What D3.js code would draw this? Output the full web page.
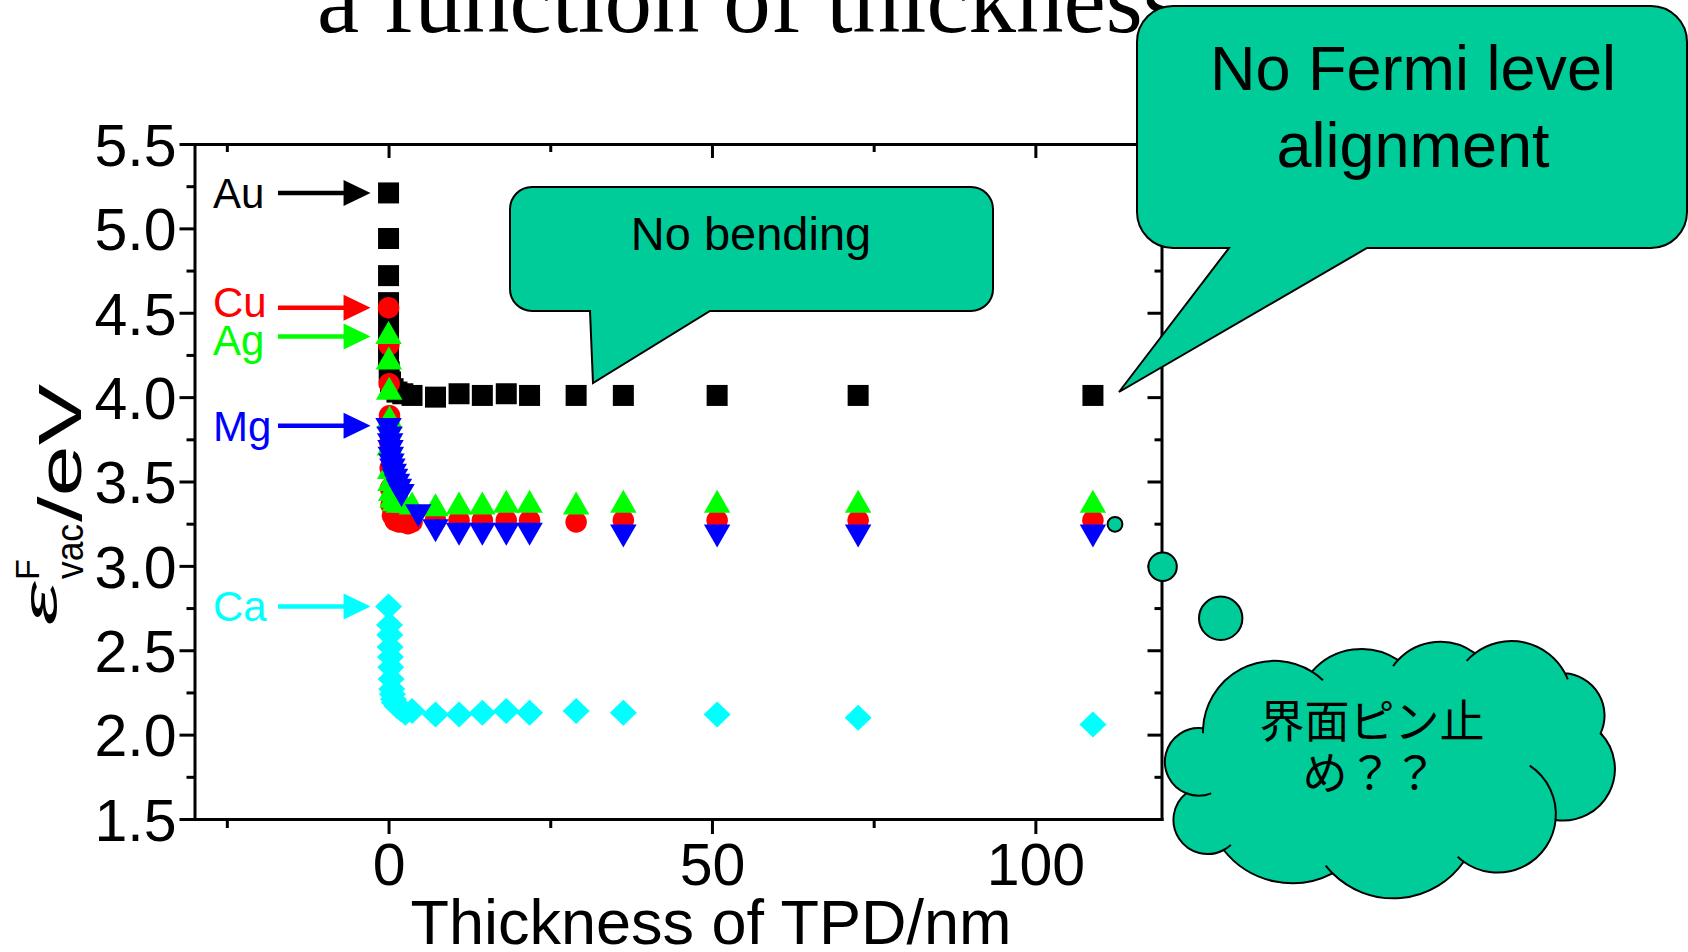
<!DOCTYPE html>
<html>
<head>
<meta charset="utf-8">
<script src="https://cdn.jsdelivr.net/npm/d3@7"></script>
<style>
  html, body { margin: 0; padding: 0; background: #fff; overflow: hidden; }
  svg { display: block; }
</style>
</head>
<body>
<svg id="chart" width="1688" height="952"></svg>
<script>
// ---- Data: vacuum-level offset vs. TPD thickness on each metal ----
const auThickness = [0, 0, 0, 0, 0, 0, 0, 0.1, 0.3, 0.7, 1.3, 2.2, 3.63, 7.26, 10.9, 14.5, 18.2, 21.8, 29.0, 36.3, 50.8, 72.6, 108.9];
const auEnergy    = [5.21, 4.94, 4.72, 4.56, 4.45, 4.34, 4.24, 4.15, 4.09, 4.05, 4.03, 4.02, 4.01, 4.00, 4.02, 4.01, 4.02, 4.01, 4.01, 4.01, 4.01, 4.01, 4.01];

const cuThickness = [0, 0.05, 0.1, 0.15, 0.2, 0.25, 0.3, 0.4, 0.6, 1.0, 1.6, 2.3, 3.0, 3.63, 7.26, 10.9, 14.5, 18.2, 21.8, 29.0, 36.3, 50.8, 72.6, 108.9];
const cuEnergy    = [4.53, 4.31, 4.08, 3.89, 3.73, 3.58, 3.46, 3.36, 3.30, 3.27, 3.26, 3.26, 3.25, 3.26, 3.27, 3.27, 3.27, 3.27, 3.27, 3.26, 3.27, 3.27, 3.27, 3.27];

const agThickness = [0, 0.05, 0.1, 0.15, 0.2, 0.25, 0.3, 0.4, 0.6, 1.0, 1.6, 2.4, 3.63, 7.26, 10.9, 14.5, 18.2, 21.8, 29.0, 36.3, 50.8, 72.6, 108.9];
const agEnergy    = [4.36, 4.21, 4.03, 3.86, 3.70, 3.56, 3.49, 3.43, 3.39, 3.37, 3.36, 3.36, 3.35, 3.34, 3.35, 3.35, 3.36, 3.36, 3.35, 3.36, 3.36, 3.36, 3.36];

const mgThickness = [0, 0.15, 0.25, 0.3, 0.35, 0.45, 0.6, 0.8, 1.0, 1.3, 1.6, 2.0, 4.6, 7.26, 10.9, 14.5, 18.2, 21.8, 36.3, 50.8, 72.6, 108.9];
const mgEnergy    = [3.83, 3.78, 3.74, 3.70, 3.66, 3.62, 3.59, 3.56, 3.53, 3.50, 3.47, 3.44, 3.32, 3.23, 3.21, 3.21, 3.21, 3.21, 3.20, 3.20, 3.20, 3.20];

const caThickness = [0, 0.15, 0.2, 0.25, 0.3, 0.35, 0.4, 0.5, 0.6, 0.75, 0.9, 1.3, 1.9, 2.6, 3.63, 7.26, 10.9, 14.5, 18.2, 21.8, 29.0, 36.3, 50.8, 72.6, 108.9];
const caEnergy    = [2.76, 2.65, 2.59, 2.52, 2.46, 2.40, 2.33, 2.27, 2.24, 2.21, 2.19, 2.17, 2.15, 2.13, 2.14, 2.12, 2.12, 2.13, 2.14, 2.13, 2.14, 2.13, 2.12, 2.10, 2.06];

const metalNames = ["Au", "Cu", "Ag", "Mg", "Ca"];

// ---- Axis ticks ----
const xDomain = [-30, 119.5];
const yDomain = [1.5, 5.5];
const xMajorTicks = [0, 50, 100];
const xMinorTicks = [-25, 25, 75];
const yMajorTicks = [1.5, 2.0, 2.5, 3.0, 3.5, 4.0, 4.5, 5.0, 5.5];
const yMinorTicks = [1.75, 2.25, 2.75, 3.25, 3.75, 4.25, 4.75, 5.25];

// ---- Layout ----
const svg = d3.select("#chart");
const plot = { left: 194.5, right: 1161.5, top: 144, bottom: 819 };
const x = d3.scaleLinear().domain(xDomain).range([plot.left, plot.right]);
const y = d3.scaleLinear().domain(yDomain).range([plot.bottom, plot.top]);

const sans = "'Liberation Sans', Arial, Helvetica, sans-serif";
const serif = "'Liberation Serif', 'Times New Roman', serif";
const teal = "#00CC99";

// Partially visible slide heading
svg.append("text")
  .attr("x", 317).attr("y", 32)
  .attr("font-family", serif).attr("font-size", 95)
  .attr("fill", "#000")
  .text("a function of thickness");

// ---- Axes (full frame: labelled bottom/left, mirrored ticks on top/right) ----
function styleAxis(g, keepDomain) {
  if (keepDomain) {
    g.select(".domain").attr("stroke", "#000").attr("stroke-width", 3).attr("stroke-linecap", "square");
  } else {
    g.select(".domain").remove();
  }
  g.selectAll(".tick line").attr("stroke", "#000").attr("stroke-width", 3);
  g.selectAll(".tick text").attr("font-family", sans).attr("font-size", 59).attr("fill", "#000");
}

const axes = svg.append("g");
// bottom
axes.append("g").attr("transform", `translate(0,${plot.bottom})`)
  .call(d3.axisBottom(x).tickValues(xMajorTicks).tickSize(15).tickSizeOuter(0).tickPadding(9).tickFormat(d3.format("d")))
  .call(g => styleAxis(g, true));
axes.append("g").attr("transform", `translate(0,${plot.bottom})`)
  .call(d3.axisBottom(x).tickValues(xMinorTicks).tickSize(9).tickFormat(""))
  .call(g => styleAxis(g, false));
// top
axes.append("g").attr("transform", `translate(0,${plot.top})`)
  .call(d3.axisTop(x).tickValues(xMajorTicks).tickSize(-14).tickSizeOuter(0).tickFormat(""))
  .call(g => styleAxis(g, true));
axes.append("g").attr("transform", `translate(0,${plot.top})`)
  .call(d3.axisTop(x).tickValues(xMinorTicks).tickSize(-8).tickFormat(""))
  .call(g => styleAxis(g, false));
// left
axes.append("g").attr("transform", `translate(${plot.left},0)`)
  .call(d3.axisLeft(y).tickValues(yMajorTicks).tickSize(15).tickSizeOuter(0).tickPadding(3).tickFormat(d3.format(".1f")))
  .call(g => styleAxis(g, true))
  .call(g => g.selectAll(".tick text").attr("dy", "0.36em"));
axes.append("g").attr("transform", `translate(${plot.left},0)`)
  .call(d3.axisLeft(y).tickValues(yMinorTicks).tickSize(8).tickFormat(""))
  .call(g => styleAxis(g, false));
// right
axes.append("g").attr("transform", `translate(${plot.right},0)`)
  .call(d3.axisRight(y).tickValues(yMajorTicks).tickSize(-14).tickSizeOuter(0).tickFormat(""))
  .call(g => styleAxis(g, true));
axes.append("g").attr("transform", `translate(${plot.right},0)`)
  .call(d3.axisRight(y).tickValues(yMinorTicks).tickSize(-7).tickFormat(""))
  .call(g => styleAxis(g, false));

// Axis titles
svg.append("text")
  .attr("x", 711).attr("y", 944)
  .attr("text-anchor", "middle")
  .attr("font-family", sans).attr("font-size", 63)
  .text("Thickness of TPD/nm");

const yTitle = svg.append("g").attr("transform", "translate(81,626) rotate(-90)");
yTitle.append("text")
  .attr("x", 1).attr("y", -24)
  .attr("font-family", sans).attr("font-style", "italic").attr("font-size", 48)
  .attr("textLength", 43).attr("lengthAdjust", "spacingAndGlyphs")
  .text("ε");
yTitle.append("text")
  .attr("x", 46).attr("y", -42)
  .attr("font-family", sans).attr("font-size", 34)
  .text("F");
yTitle.append("text")
  .attr("x", 47).attr("y", 2)
  .attr("font-family", sans).attr("font-size", 38)
  .attr("textLength", 55).attr("lengthAdjust", "spacingAndGlyphs")
  .text("vac");
yTitle.append("text")
  .attr("x", 104).attr("y", 0)
  .attr("font-family", sans).attr("font-size", 61)
  .attr("textLength", 138).attr("lengthAdjust", "spacingAndGlyphs")
  .text("/eV");

// ---- Markers ----
const markerPaths = {
  square:  "M-10.5,-10.5H10.5V10.5H-10.5Z",
  circle:  d3.symbol(d3.symbolCircle, Math.PI * 10.75 * 10.75)(),
  up:      "M0,-15.3L13.25,7.7L-13.25,7.7Z",
  down:    "M0,15.3L13.25,-7.7L-13.25,-7.7Z",
  diamond: "M0,-13L13.5,0L0,13L-13.5,0Z"
};

const series = [
  { name: metalNames[0], xs: auThickness, ys: auEnergy, color: "#000000", marker: "square",  labelShift: 0 },
  { name: metalNames[1], xs: cuThickness, ys: cuEnergy, color: "#FF0000", marker: "circle",  labelShift: -6 },
  { name: metalNames[2], xs: agThickness, ys: agEnergy, color: "#00FF00", marker: "up",      labelShift: 4 },
  { name: metalNames[3], xs: mgThickness, ys: mgEnergy, color: "#0000FF", marker: "down",    labelShift: 0 },
  { name: metalNames[4], xs: caThickness, ys: caEnergy, color: "#00FFFF", marker: "diamond", labelShift: 0 }
];

const marks = svg.append("g");
series.forEach(s => {
  marks.append("g")
    .selectAll("path")
    .data(d3.zip(s.xs, s.ys))
    .join("path")
    .attr("d", markerPaths[s.marker])
    .attr("transform", d => `translate(${x(d[0])},${y(d[1])})`)
    .attr("fill", s.color);
});

// Metal labels with arrows pointing at the bare-metal value
const labels = svg.append("g");
series.forEach(s => {
  const yy = y(s.ys[0]);
  const tip = x(0) - 18;
  labels.append("line")
    .attr("x1", 278).attr("x2", tip - 25)
    .attr("y1", yy).attr("y2", yy)
    .attr("stroke", s.color).attr("stroke-width", 4.5);
  labels.append("path")
    .attr("d", `M${tip - 27},${yy - 13}L${tip},${yy}L${tip - 27},${yy + 13}Z`)
    .attr("fill", s.color);
  labels.append("text")
    .attr("x", 213).attr("y", yy + 15 + s.labelShift)
    .attr("font-family", sans).attr("font-size", 42)
    .attr("fill", s.color)
    .text(s.name);
});

// ---- Callouts ----
function calloutPath(x0, y0, x1, y1, r, baseL, baseR, tip) {
  return `M${x0 + r},${y0}H${x1 - r}A${r},${r} 0 0 1 ${x1},${y0 + r}` +
         `V${y1 - r}A${r},${r} 0 0 1 ${x1 - r},${y1}` +
         `H${baseR}L${tip[0]},${tip[1]}L${baseL},${y1}` +
         `H${x0 + r}A${r},${r} 0 0 1 ${x0},${y1 - r}` +
         `V${y0 + r}A${r},${r} 0 0 1 ${x0 + r},${y0}Z`;
}

const notes = svg.append("g");

notes.append("path")
  .attr("d", calloutPath(510, 187, 993, 311, 22, 590, 710, [593, 383]))
  .attr("fill", teal).attr("stroke", "#000").attr("stroke-width", 2);
notes.append("text")
  .attr("x", 751).attr("y", 250)
  .attr("text-anchor", "middle")
  .attr("font-family", sans).attr("font-size", 47)
  .text("No bending");

notes.append("path")
  .attr("d", calloutPath(1137, 6, 1687, 248, 36, 1229, 1367, [1119, 392]))
  .attr("fill", teal).attr("stroke", "#000").attr("stroke-width", 2);
notes.append("text")
  .attr("x", 1413).attr("y", 90)
  .attr("text-anchor", "middle")
  .attr("font-family", sans).attr("font-size", 63)
  .text("No Fermi level");
notes.append("text")
  .attr("x", 1413).attr("y", 167)
  .attr("text-anchor", "middle")
  .attr("font-family", sans).attr("font-size", 63)
  .text("alignment");

// Thought bubble: trailing dots and cloud
[[1115, 524.3, 7.4], [1162.6, 566.7, 14.2], [1220.7, 618.3, 21.7]].forEach(([cx, cy, r]) => {
  notes.append("circle")
    .attr("cx", cx).attr("cy", cy).attr("r", r)
    .attr("fill", teal).attr("stroke", "#000").attr("stroke-width", 2);
});

function circleThrough(a, b, c) {
  const d = 2 * (a[0] * (b[1] - c[1]) + b[0] * (c[1] - a[1]) + c[0] * (a[1] - b[1]));
  const a2 = a[0] * a[0] + a[1] * a[1];
  const b2 = b[0] * b[0] + b[1] * b[1];
  const c2 = c[0] * c[0] + c[1] * c[1];
  const cx = (a2 * (b[1] - c[1]) + b2 * (c[1] - a[1]) + c2 * (a[1] - b[1])) / d;
  const cy = (a2 * (c[0] - b[0]) + b2 * (a[0] - c[0]) + c2 * (b[0] - a[0])) / d;
  return { cx, cy, r: Math.hypot(a[0] - cx, a[1] - cy) };
}
function lobe(A, P, B) {
  const c = circleThrough(A, P, B);
  const cross = (P[0] - A[0]) * (B[1] - P[1]) - (P[1] - A[1]) * (B[0] - P[0]);
  const side = X => (B[0] - A[0]) * (X[1] - A[1]) - (B[1] - A[1]) * (X[0] - A[0]);
  return {
    c,
    sweep: cross > 0 ? 1 : 0,
    large: Math.sign(side(P)) === Math.sign(side([c.cx, c.cy])) ? 1 : 0
  };
}

const cusps = [
  [1203.1, 728.3], [1311.9, 671.7], [1398.1, 660], [1475, 653.3], [1565, 673.3],
  [1600.6, 733.3], [1555.6, 820], [1463.7, 861.7], [1332.5, 873.3], [1223.7, 850], [1186.2, 793.3]
];
const bulges = [
  [1227.5, 678.3], [1358.7, 649], [1439.3, 641.7], [1530, 644], [1596, 690],
  [1613.7, 780], [1535, 859], [1396.2, 898.3], [1268.7, 880], [1175, 830], [1165.6, 755]
];
const lobes = cusps.map((p, i) => lobe(p, bulges[i], cusps[(i + 1) % cusps.length]));

let cloud = `M${cusps[0][0]},${cusps[0][1]}`;
lobes.forEach((l, i) => {
  const B = cusps[(i + 1) % cusps.length];
  cloud += `A${l.c.r},${l.c.r} 0 ${l.large} ${l.sweep} ${B[0]},${B[1]}`;
});
cloud += "Z";
notes.append("path").attr("d", cloud)
  .attr("fill", teal).attr("stroke", "#000").attr("stroke-width", 2);

// inner creases continuing a lobe past its cusp
const creases = [
  [0, "start", [1205, 733.3]], [0, "end", [1323.1, 680]], [2, "start", [1396.2, 668.3]],
  [3, "start", [1469.3, 663.3]], [3, "end", [1566, 680]], [5, "start", [1587.5, 748.3]],
  [6, "start", [1521.8, 777.7]], [6, "end", [1465.6, 848.3]], [7, "end", [1328.7, 863.3]],
  [9, "start", [1235, 849.3]], [10, "start", [1212.5, 796.7]]
];
creases.forEach(([i, at, E]) => {
  const l = lobes[i];
  const S = at === "start" ? cusps[i] : cusps[(i + 1) % cusps.length];
  const k = l.c.r / Math.hypot(E[0] - l.c.cx, E[1] - l.c.cy);
  const ex = l.c.cx + (E[0] - l.c.cx) * k, ey = l.c.cy + (E[1] - l.c.cy) * k;
  const sweep = at === "end" ? l.sweep : 1 - l.sweep;
  notes.append("path")
    .attr("d", `M${S[0]},${S[1]}A${l.c.r},${l.c.r} 0 0 ${sweep} ${ex},${ey}`)
    .attr("fill", "none").attr("stroke", "#000").attr("stroke-width", 2);
});

const cjk = "'Noto Sans CJK JP', 'Noto Sans CJK SC', sans-serif";
notes.append("text")
  .attr("x", 1372).attr("y", 738)
  .attr("text-anchor", "middle")
  .attr("font-family", cjk).attr("font-size", 45)
  .text("界面ピン止");
notes.append("text")
  .attr("x", 1370).attr("y", 790)
  .attr("text-anchor", "middle")
  .attr("font-family", cjk).attr("font-size", 45)
  .text("め？？");
</script>
</body>
</html>
